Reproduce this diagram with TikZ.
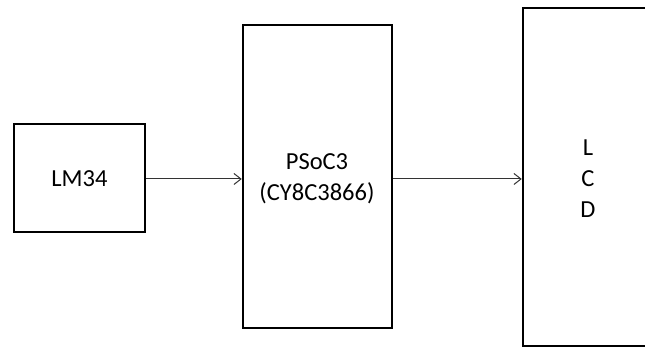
\documentclass[tikz,border=0pt]{standalone}
\usepackage{fontspec}
\setmainfont{Carlito}
\usetikzlibrary{arrows.meta}
\begin{document}
\begin{tikzpicture}[x=1pt,y=1pt,
  blk/.style={draw=black,line width=2.5pt,inner sep=0pt,fill=white},
  lbl/.style={font=\fontsize{24.5}{31}\selectfont,align=center,text=black},
  conn/.style={draw=black!80,line width=1pt,-{Straight Barb[length=7pt,width=11pt]}}]
\useasboundingbox (0,0) rectangle (645,347);
\node[blk,minimum width=131pt,minimum height=108pt] (lm) at (79.5,169) {};
\node[blk,minimum width=149pt,minimum height=303pt] (psoc) at (317.5,170.5) {};
\node[blk,minimum width=140pt,minimum height=338pt] (lcd) at (593,170) {};
\node[lbl] (lmt) at (79.5,168) {LM34};
\node[lbl] (psoct) at (317,168.5) {PSoC3\\(CY8C3866)};
\node[lbl] (lcdt) at (588,168) {L\\C\\D};
\coordinate (a1) at (lm.east |- 0,168);
\coordinate (a2) at (psoc.west |- 0,168);
\coordinate (b1) at (psoc.east |- 0,168);
\coordinate (b2) at (lcd.west |- 0,168);
\draw[conn] (a1) -- (a2);
\draw[conn] (b1) -- (b2);
\end{tikzpicture}
\end{document}
